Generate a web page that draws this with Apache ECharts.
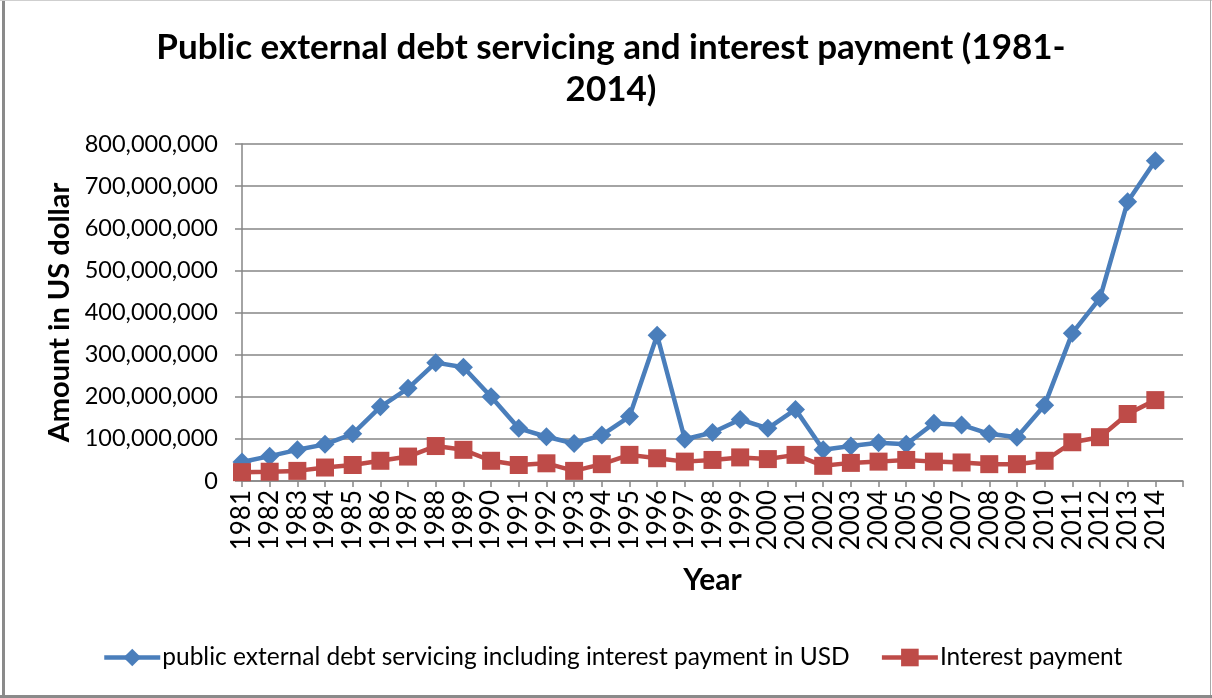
<!DOCTYPE html>
<html>
<head>
<meta charset="utf-8">
<script src="https://cdn.jsdelivr.net/npm/echarts@6/dist/echarts.min.js"></script>
<style>
  html, body { margin: 0; padding: 0; background: #fff; }
  #chart { width: 1212px; height: 698px; }
</style>
</head>
<body>
<div id="chart"></div>
<script>
// Years on the category axis
const years = ['1981','1982','1983','1984','1985','1986','1987','1988','1989','1990',
  '1991','1992','1993','1994','1995','1996','1997','1998','1999','2000',
  '2001','2002','2003','2004','2005','2006','2007','2008','2009','2010',
  '2011','2012','2013','2014'];

// Public external debt servicing including interest payment (USD)
const debtServicing = [
  45000000, 59000000, 74000000, 87000000, 112000000, 176000000, 220000000, 281000000, 270000000, 200000000,
  125000000, 105000000, 89000000, 109000000, 153000000, 346000000, 99000000, 115000000, 146000000, 125000000,
  170000000, 74000000, 83000000, 91000000, 87000000, 137000000, 133000000, 112000000, 104000000, 180000000,
  351000000, 434000000, 663000000, 760000000];

// Interest payment (USD)
const interestPayment = [
  21000000, 22000000, 24000000, 32000000, 38000000, 48000000, 58000000, 83000000, 74000000, 48000000,
  38000000, 42000000, 24000000, 40000000, 62000000, 54000000, 46000000, 50000000, 56000000, 52000000,
  62000000, 36000000, 43000000, 46000000, 50000000, 46000000, 44000000, 40000000, 40000000, 48000000,
  92000000, 104000000, 159000000, 192000000];

// Value axis ticks
const yTicks = [0, 100000000, 200000000, 300000000, 400000000, 500000000, 600000000, 700000000, 800000000];

const seriesNames = ['public external debt servicing including interest payment in USD', 'Interest payment'];

const FONT = 'Lato';
const axisGray = '#868686';

function withCommas(v) {
  return String(v).replace(/\B(?=(\d{3})+(?!\d))/g, ',');
}

const chart = echarts.init(document.getElementById('chart'), null, { renderer: 'canvas' });

chart.setOption({
  backgroundColor: '#ffffff',
  animation: false,
  textStyle: { fontFamily: FONT },
  title: {
    text: 'Public external debt servicing and interest payment (1981-\n2014)',
    left: 606,
    textAlign: 'center',
    top: 22,
    textStyle: { fontFamily: FONT, fontWeight: 'bold', fontSize: 35, lineHeight: 42, color: '#000' }
  },
  graphic: [
    { type: 'line', shape: { x1: 3.5, y1: 0, x2: 3.5, y2: 698 }, style: { stroke: '#8a8a8a', lineWidth: 3 } },
    { type: 'line', shape: { x1: 0, y1: 0.5, x2: 1212, y2: 0.5 }, style: { stroke: '#cfcfcf', lineWidth: 1 } },
    { type: 'line', shape: { x1: 1210.5, y1: 0, x2: 1210.5, y2: 698 }, style: { stroke: '#a8a8a8', lineWidth: 1 } },
    { type: 'line', shape: { x1: 0, y1: 696.5, x2: 1212, y2: 696.5 }, style: { stroke: '#8a8a8a', lineWidth: 3 } }
  ],
  legend: {
    left: 97,
    top: 640,
    itemWidth: 56,
    itemHeight: 22,
    itemGap: 30,
    lineStyle: { width: 4.5 },
    textStyle: { fontFamily: FONT, fontSize: 24.5, color: '#000', padding: [0, 0, 0, -3] },
    data: seriesNames
  },
  grid: { left: 242, top: 144, width: 941, height: 337, containLabel: false },
  xAxis: {
    type: 'category',
    data: years.concat(['']),
    boundaryGap: false,
    name: 'Year',
    nameLocation: 'middle',
    nameGap: 84,
    nameTextStyle: { fontFamily: FONT, fontWeight: 'bold', fontSize: 30, color: '#000' },
    axisLine: { lineStyle: { color: axisGray, width: 1.5 } },
    axisTick: { show: true, length: 6, lineStyle: { color: axisGray, width: 1.5 } },
    axisLabel: { interval: 0, rotate: 90, margin: 9, fontFamily: FONT, fontSize: 26, color: '#000' },
    splitLine: { show: false }
  },
  yAxis: {
    type: 'value',
    min: yTicks[0],
    max: yTicks[yTicks.length - 1],
    interval: yTicks[1] - yTicks[0],
    name: 'Amount in US dollar',
    nameLocation: 'middle',
    nameRotate: 90,
    nameGap: 168,
    nameTextStyle: { fontFamily: FONT, fontWeight: 'bold', fontSize: 29, color: '#000' },
    axisLine: { show: true, lineStyle: { color: axisGray, width: 1.5 } },
    axisTick: { show: true, length: 7, lineStyle: { color: axisGray, width: 1.5 } },
    axisLabel: { margin: 24, fontFamily: FONT, fontSize: 23.5, color: '#000', formatter: withCommas },
    splitLine: { show: true, lineStyle: { color: axisGray, width: 1.5 } }
  },
  series: [
    {
      name: seriesNames[0],
      type: 'line',
      data: debtServicing,
      symbol: 'diamond',
      symbolSize: 19,
      lineStyle: { color: '#4A7EBB', width: 4.5 },
      itemStyle: { color: '#4A7EBB' }
    },
    {
      name: seriesNames[1],
      type: 'line',
      data: interestPayment,
      symbol: 'rect',
      symbolSize: 18,
      lineStyle: { color: '#BE4B48', width: 4.5 },
      itemStyle: { color: '#BE4B48' }
    }
  ]
});
</script>
</body>
</html>
